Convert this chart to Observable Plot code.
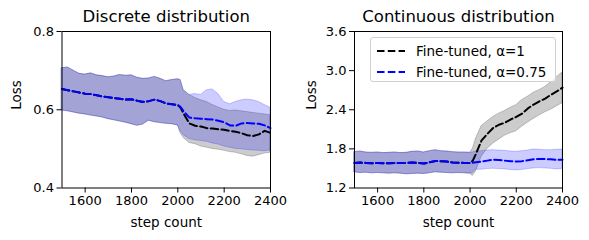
<!DOCTYPE html>
<html>
<head>
<meta charset="utf-8">
<script src="https://cdn.jsdelivr.net/npm/d3@7"></script>
<script src="https://cdn.jsdelivr.net/npm/@observablehq/plot@0.6"></script>
<style>
  html, body { margin: 0; padding: 0; background: white; }
  #wrap { position: relative; width: 589px; height: 240px; font-family: "DejaVu Sans", sans-serif; }
  .panel { position: absolute; top: 0; }
  #legend { position: absolute; left: 370px; top: 37px; width: 186px; height: 45px; background: rgba(255,255,255,0.8);
            border: 1px solid #d0d0d0; border-radius: 3px; box-sizing: border-box; font-size: 13.5px; color: black; }
  .row { position: absolute; left: 0; height: 20px; display: flex; align-items: center; }
  .row svg { margin-left: 6px; margin-right: 11px; }
</style>
</head>
<body>
<div id="wrap">
  <div id="left" class="panel" style="left:0px"></div>
  <div id="right" class="panel" style="left:295px"></div>
  <div id="legend"></div>
</div>
<script>
// ---- data ----
const steps = [1500,1525,1550,1575,1600,1625,1650,1675,1700,1725,1750,1775,1800,1825,1850,1875,1900,1925,1950,1975,2000,2012,2025,2050,2075,2100,2125,2150,2175,2200,2225,2250,2275,2300,2325,2350,2375,2400];

const titles = ["Discrete distribution", "Continuous distribution"];
const xLabel = "step count";
const yLabel = "Loss";
const seriesNames = ["Fine-tuned, α=1", "Fine-tuned, α=0.75"];
const seriesColors = ["black", "blue"];
const xTicks = [1600, 1800, 2000, 2200, 2400];
const discreteYTicks = [0.4, 0.6, 0.8];
const continuousYTicks = [1.2, 1.8, 2.4, 3.0, 3.6];
const discreteYDomain = [0.4, 0.8];
const continuousYDomain = [1.2, 3.6];
const xDomain = [1500, 2400];

// Discrete distribution
const discA1Mean = [0.653,0.650,0.647,0.644,0.641,0.640,0.637,0.634,0.632,0.630,0.628,0.626,0.627,0.623,0.620,0.622,0.626,0.622,0.616,0.614,0.612,0.605,0.590,0.565,0.559,0.557,0.553,0.552,0.550,0.549,0.546,0.544,0.540,0.535,0.533,0.537,0.546,0.541];
const discA1Hi   = [0.706,0.708,0.700,0.692,0.690,0.693,0.688,0.686,0.683,0.685,0.689,0.687,0.688,0.682,0.679,0.680,0.684,0.679,0.673,0.676,0.678,0.676,0.650,0.638,0.630,0.624,0.620,0.612,0.606,0.600,0.597,0.598,0.596,0.594,0.592,0.590,0.588,0.586];
const discA1Lo   = [0.598,0.596,0.593,0.590,0.588,0.585,0.583,0.580,0.576,0.573,0.570,0.567,0.563,0.559,0.562,0.572,0.568,0.566,0.564,0.563,0.560,0.540,0.528,0.515,0.512,0.506,0.503,0.500,0.498,0.495,0.492,0.490,0.486,0.482,0.480,0.484,0.488,0.490];
const discA075Mean = [0.653,0.650,0.647,0.644,0.641,0.640,0.637,0.634,0.632,0.630,0.628,0.626,0.627,0.623,0.620,0.622,0.626,0.622,0.616,0.614,0.612,0.607,0.596,0.580,0.578,0.577,0.576,0.575,0.572,0.568,0.560,0.559,0.565,0.566,0.565,0.564,0.560,0.553];
const discA075Hi   = [0.706,0.708,0.700,0.692,0.690,0.693,0.688,0.686,0.683,0.685,0.689,0.687,0.688,0.682,0.679,0.680,0.684,0.679,0.673,0.676,0.678,0.676,0.650,0.638,0.640,0.638,0.650,0.652,0.640,0.620,0.614,0.620,0.624,0.626,0.624,0.620,0.612,0.605];
const discA075Lo   = [0.598,0.596,0.593,0.590,0.588,0.585,0.583,0.580,0.576,0.573,0.570,0.567,0.563,0.559,0.562,0.572,0.568,0.566,0.564,0.563,0.560,0.545,0.535,0.525,0.522,0.520,0.518,0.514,0.511,0.506,0.503,0.500,0.499,0.497,0.496,0.495,0.494,0.496];

// Continuous distribution
const contA1Mean = [1.585,1.590,1.585,1.580,1.585,1.580,1.578,1.585,1.582,1.585,1.590,1.585,1.575,1.595,1.615,1.610,1.605,1.590,1.588,1.585,1.583,1.620,1.720,1.930,2.030,2.120,2.170,2.200,2.250,2.290,2.340,2.420,2.480,2.530,2.570,2.630,2.680,2.740];
const contA1Hi   = [1.750,1.760,1.745,1.740,1.745,1.735,1.740,1.745,1.735,1.740,1.755,1.760,1.745,1.765,1.780,1.765,1.760,1.750,1.745,1.745,1.740,1.800,1.950,2.150,2.220,2.290,2.340,2.380,2.430,2.470,2.550,2.600,2.660,2.700,2.750,2.820,2.900,2.970];
const contA1Lo   = [1.440,1.430,1.435,1.425,1.430,1.425,1.420,1.425,1.420,1.410,1.415,1.420,1.415,1.425,1.440,1.435,1.430,1.425,1.430,1.425,1.420,1.385,1.450,1.680,1.800,1.880,1.940,2.000,2.040,2.070,2.140,2.200,2.260,2.310,2.360,2.400,2.450,2.500];
const contA075Mean = [1.585,1.590,1.585,1.580,1.585,1.580,1.578,1.585,1.582,1.585,1.590,1.585,1.575,1.595,1.615,1.610,1.605,1.590,1.588,1.585,1.583,1.588,1.595,1.605,1.620,1.635,1.630,1.620,1.610,1.605,1.612,1.625,1.640,1.645,1.645,1.640,1.630,1.635];
const contA075Hi   = [1.750,1.760,1.745,1.740,1.745,1.735,1.740,1.745,1.735,1.740,1.755,1.760,1.745,1.765,1.780,1.765,1.760,1.750,1.745,1.745,1.740,1.745,1.760,1.765,1.775,1.780,1.775,1.770,1.760,1.755,1.765,1.775,1.790,1.785,1.780,1.780,1.785,1.790];
const contA075Lo   = [1.440,1.430,1.435,1.425,1.430,1.425,1.420,1.425,1.420,1.410,1.415,1.420,1.415,1.425,1.440,1.435,1.430,1.425,1.430,1.425,1.420,1.430,1.480,1.480,1.490,1.495,1.490,1.485,1.475,1.470,1.475,1.490,1.500,1.505,1.500,1.495,1.485,1.490];

// ---- build ----
function rows(mean, lo, hi) {
  return steps.map((s, i) => ({step: s, mean: mean[i], lo: lo[i], hi: hi[i]}));
}

const DASH = "7.5,3.3";
const FONT = "DejaVu Sans";

function panel({title, yDomain, yTicks, series, width, marginLeft, marginRight}) {
  const marks = [];
  series.forEach(s => marks.push(Plot.areaY(s.data, {x: "step", y1: "lo", y2: "hi", fill: s.color, fillOpacity: 0.2,
      stroke: s.color, strokeOpacity: 0.2, strokeWidth: 1})));
  series.forEach(s => marks.push(Plot.lineY(s.data, {x: "step", y: "mean", stroke: s.color, strokeWidth: 2,
      strokeDasharray: DASH})));
  marks.push(Plot.frame({stroke: "black", strokeWidth: 1}));
  marks.push(Plot.text([title], {frameAnchor: "top", dy: -14.5, text: d => d, fontSize: 16.5, lineAnchor: "middle", fill: "black"}));
  marks.push(Plot.text([xLabel], {frameAnchor: "bottom", dy: 34.5, text: d => d, fontSize: 13.5, lineAnchor: "middle", fill: "black"}));
  marks.push(Plot.text([yLabel], {frameAnchor: "left", dx: -(marginLeft - 16), text: d => d, rotate: -90, fontSize: 13.5, lineAnchor: "middle", fill: "black"}));
  return Plot.plot({
    width, height: 240,
    marginLeft, marginRight, marginTop: 31, marginBottom: 52.5,
    style: {fontFamily: FONT, fontSize: "13px", color: "black", background: "white", overflow: "visible"},
    x: {domain: xDomain, ticks: xTicks, tickFormat: d => String(d), label: null, tickSize: 5, tickPadding: 3},
    y: {domain: yDomain, ticks: yTicks, tickFormat: d => d.toFixed(1), label: null, tickSize: 5, tickPadding: 3},
    marks
  });
}

document.getElementById("left").appendChild(panel({
  title: titles[0], yDomain: discreteYDomain, yTicks: discreteYTicks, width: 295, marginLeft: 61.5, marginRight: 25,
  series: [
    {color: seriesColors[0], data: rows(discA1Mean, discA1Lo, discA1Hi)},
    {color: seriesColors[1], data: rows(discA075Mean, discA075Lo, discA075Hi)}
  ]
}));

document.getElementById("right").appendChild(panel({
  title: titles[1], yDomain: continuousYDomain, yTicks: continuousYTicks, width: 294, marginLeft: 59, marginRight: 27,
  series: [
    {color: seriesColors[0], data: rows(contA1Mean, contA1Lo, contA1Hi)},
    {color: seriesColors[1], data: rows(contA075Mean, contA075Lo, contA075Hi)}
  ]
}));

// legend
const legend = document.getElementById("legend");
seriesNames.forEach((name, i) => {
  const row = document.createElement("div");
  row.className = "row";
  row.style.top = (i === 0 ? 3 : 24) + "px";
  row.innerHTML = `<svg width="28" height="6"><line x1="0" y1="3" x2="28" y2="3" stroke="${seriesColors[i]}" stroke-width="2" stroke-dasharray="${DASH}"/></svg><span>${name}</span>`;
  legend.appendChild(row);
});
</script>
</body>
</html>
